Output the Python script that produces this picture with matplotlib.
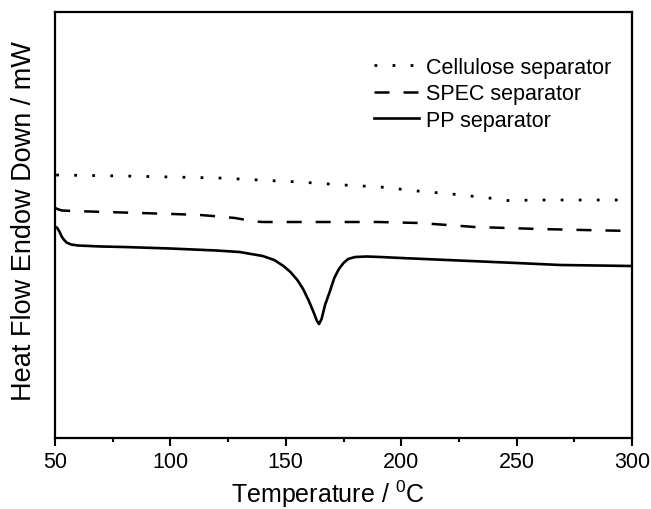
import matplotlib

matplotlib.use("Agg")
import matplotlib.pyplot as plt
from matplotlib.ticker import MultipleLocator

# DSC traces (heat flow in arbitrary mW offsets)
temp_pp = [50.3, 51, 52, 53, 54, 55, 57, 60, 65, 70, 80, 100, 120, 130, 140, 145, 149, 152,
           155, 157.5, 160, 162, 163.5, 164.4, 165.5, 167, 169, 171, 173, 175, 177, 180, 185,
           191, 200, 215, 230, 250, 269, 285, 300]
flow_pp = [2.11, 2.10, 2.06, 2.01, 1.98, 1.955, 1.935, 1.925, 1.92, 1.915, 1.91, 1.895, 1.875,
           1.86, 1.82, 1.78, 1.72, 1.66, 1.58, 1.49, 1.37, 1.26, 1.17, 1.14, 1.19, 1.33, 1.46,
           1.60, 1.69, 1.75, 1.79, 1.81, 1.815, 1.81, 1.80, 1.785, 1.77, 1.75, 1.73, 1.725, 1.72]

temp_spec = [50.3, 51, 53, 58, 72, 87, 101, 113, 121, 128, 133, 137, 140, 160, 190, 208, 220,
             232, 246, 260, 279, 300]
flow_spec = [2.30, 2.29, 2.275, 2.27, 2.26, 2.25, 2.24, 2.23, 2.215, 2.20, 2.18, 2.165, 2.16,
             2.16, 2.16, 2.15, 2.13, 2.11, 2.10, 2.09, 2.08, 2.07]

temp_cell = [50.5, 80, 121, 156, 175, 191, 207, 222, 238, 246, 260, 300]
flow_cell = [2.63, 2.62, 2.60, 2.56, 2.53, 2.51, 2.47, 2.44, 2.40, 2.375, 2.38, 2.38]

labels = ["Cellulose separator", "SPEC separator", "PP separator"]

plt.rcParams.update(
    {
        "font.family": ["Liberation Sans", "DejaVu Sans"],
        "mathtext.fontset": "custom",
        "mathtext.rm": "Liberation Sans",
        "axes.linewidth": 1.6,
    }
)

fig = plt.figure(figsize=(6.51, 5.10), dpi=100)
ax = fig.add_axes([0.0845, 0.1392, 0.8863, 0.8353])

ax.plot(temp_cell, flow_cell, color="black", lw=2.0, ls=(0, (1, 5.5)), label=labels[0])
ax.plot(temp_spec, flow_spec, color="black", lw=1.8, ls=(0, (6, 5.6)), label=labels[1])
ax.plot(temp_pp, flow_pp, color="black", lw=1.9, label=labels[2])

ax.set_xlim(50, 300)
ax.set_ylim(0, 4.26)
ax.xaxis.set_major_locator(MultipleLocator(50))
ax.xaxis.set_minor_locator(MultipleLocator(25))
ax.tick_params(axis="x", which="major", direction="out", length=5.5, width=1.5, labelsize=15.5)
ax.tick_params(axis="x", which="minor", direction="out", length=3, width=1.5)
ax.set_yticks([])

ax.set_xlabel(r"Temperature / $^{\mathrm{0}}$C", fontsize=18)
ax.xaxis.set_label_coords(0.472, -0.094)
ax.set_ylabel("Heat Flow Endow Down / mW", fontsize=19.5)
ax.yaxis.set_label_coords(-0.031, 0.512)

ax.legend(
    loc="upper left",
    bbox_to_anchor=(0.553, 0.8955),
    frameon=False,
    fontsize=15.5,
    handlelength=2.1,
    handletextpad=0.33,
    labelspacing=0.26,
    borderpad=0,
    borderaxespad=0,
)

fig.savefig("out.png", dpi=100, facecolor="white")
